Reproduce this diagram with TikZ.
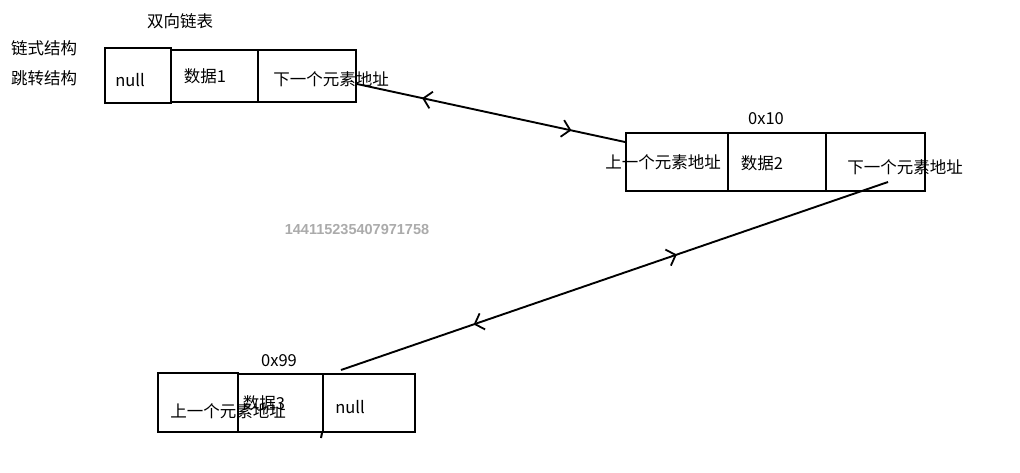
\documentclass[tikz,border=0pt]{standalone}
\usepackage{fontspec}
\setmainfont{Noto Sans CJK SC}
\newfontfamily\markfont{Liberation Sans}
\usetikzlibrary{arrows.meta,decorations.markings,calc}
\begin{document}
\begin{tikzpicture}[x=1pt,y=-1pt,
  cell/.style={draw,line width=2pt,inner sep=0pt,anchor=north west},
  txt/.style={font=\fontsize{16.5}{19}\selectfont,inner sep=0pt},
  barb/.style={line width=1.8pt},
  twoway/.style 2 args={line width=1.9pt,postaction={decorate},
    decoration={markings,
      mark=at position #1 with {\arrow[barb]{Straight Barb[length=8pt,width=17pt,reversed]}},
      mark=at position #2 with {\arrow[barb]{Straight Barb[length=8pt,width=17pt]}}}}]
\useasboundingbox (0,0) rectangle (1020,473);
\node[txt] (title) at (180,21) {双向链表};
\node[txt] (chain) at (44,48) {链式结构};
\node[txt] (jump) at (44,78) {跳转结构};
% first element
\node[cell,minimum width=66pt,minimum height=55pt] (n1null) at (104,47) {};
\node[cell,minimum width=87pt,minimum height=52pt] (n1data) at (170,49) {};
\node[cell,minimum width=98pt,minimum height=52pt] (n1next) at (257,49) {};
\node[txt] (t1null) at (130,80) {null};
\node[txt] (t1data) at (205,76) {数据1};
\node[txt] (t1next) at (331,79) {下一个元素地址};
% second element
\node[txt] (addr2) at (766,119) {0x10};
\node[cell,minimum width=102pt,minimum height=58pt] (n2prev) at (625,132) {};
\node[cell,minimum width=98pt,minimum height=58pt] (n2data) at (727,132) {};
\node[cell,minimum width=99pt,minimum height=58pt] (n2next) at (825,132) {};
\node[txt] (t2prev) at (663,162) {上一个元素地址};
\node[txt] (t2data) at (762,163) {数据2};
\node[txt] (t2next) at (905,167) {下一个元素地址};
% third element
\node[txt] (addr3) at (279,361) {0x99};
\node[cell,minimum width=80pt,minimum height=59pt] (n3prev) at (157,372) {};
\node[cell,minimum width=85pt,minimum height=58pt] (n3data) at (237,373) {};
\node[cell,minimum width=92pt,minimum height=58pt] (n3null) at (322,373) {};
\draw[line width=2pt] (n3null.south west) -- ++(-1,5);
\node[txt] (t3data) at (264,403) {数据3};
\node[txt] (t3prev) at (228,411) {上一个元素地址};
\node[txt] (t3null) at (350,407) {null};
% watermark
\node[font=\markfont\bfseries\fontsize{14.5}{17}\selectfont,text=black!33,inner sep=0pt] (mark) at (357,230) {144115235407971758};
% links
\draw[twoway={0.28}{0.8}] ($(n1next.east)+(0,8)$) -- ($(n2prev.north west)+(0,10)$);
\draw[twoway={0.26}{0.614}] ($(n3null.north west)+(19,-3)$) -- ($(n2next.south west)+(63,-10)$);
\end{tikzpicture}
\end{document}
